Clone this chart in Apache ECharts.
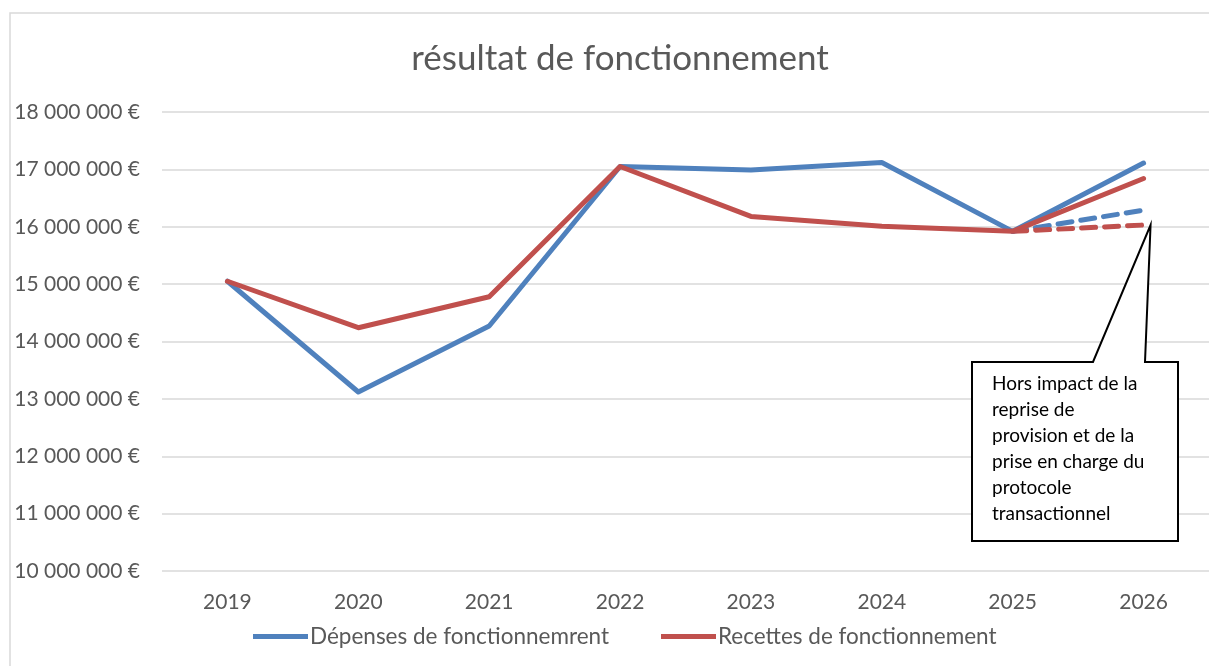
<!DOCTYPE html>
<html>
<head>
<meta charset="utf-8">
<script src="https://cdn.jsdelivr.net/npm/echarts@6/dist/echarts.min.js"></script>
<style>
  html, body { margin: 0; padding: 0; background: #fff; }
  #chart { width: 1209px; height: 666px; }
</style>
</head>
<body>
<div id="chart"></div>
<script>
// --- données ---
const YEARS = ["2019", "2020", "2021", "2022", "2023", "2024", "2025", "2026"];
const DEPENSES = [15050000, 13120000, 14270000, 17050000, 16990000, 17120000, 15920000, 17110000];
const RECETTES = [15050000, 14240000, 14780000, 17050000, 16180000, 16010000, 15920000, 16840000];
// hors impact (pointillés 2025 -> 2026)
const DEPENSES_HORS = [null, null, null, null, null, null, 15920000, 16290000];
const RECETTES_HORS = [null, null, null, null, null, null, 15920000, 16030000];
const CALLOUT_TEXT = "Hors impact de la\nreprise de\nprovision et de la\nprise en charge du\nprotocole\ntransactionnel";

const FONT = "Lato";
const GREY = "#595959";
const BLUE = "#4F81BD";
const RED = "#C0504D";

const fmtEuro = (v) => String(v).replace(/\B(?=(\d{3})+(?!\d))/g, " ") + " €";

const chart = echarts.init(document.getElementById("chart"));

const option = {
  animation: false,
  textStyle: { fontFamily: FONT },
  title: {
    text: "résultat de fonctionnement",
    left: 615,
    textAlign: "center",
    top: 36,
    textStyle: { fontFamily: FONT, fontSize: 35, fontWeight: "normal", color: GREY },
  },
  legend: {
    data: ["Dépenses de fonctionnemrent", "Recettes de fonctionnement"],
    left: 248,
    top: 620,
    itemWidth: 55,
    itemHeight: 5,
    itemGap: 52,
    icon: "rect",
    textStyle: { fontFamily: FONT, fontSize: 22.5, color: GREY, padding: [0, 0, 0, -3] },
  },
  grid: { left: 162, right: -11, top: 112, bottom: 95 },
  xAxis: {
    type: "category",
    data: YEARS,
    boundaryGap: true,
    axisLine: { show: false },
    axisTick: { show: false },
    axisLabel: { fontFamily: FONT, fontSize: 21, color: GREY, margin: 21 },
  },
  yAxis: {
    type: "value",
    min: 10000000,
    max: 18000000,
    interval: 1000000,
    axisLine: { show: false },
    axisTick: { show: false },
    splitLine: { lineStyle: { color: "#d9d9d9", width: 1.5 } },
    axisLabel: { fontFamily: FONT, fontSize: 21, color: GREY, margin: 22, formatter: fmtEuro },
  },
  series: [
    {
      name: "Dépenses de fonctionnemrent",
      type: "line",
      data: DEPENSES,
      showSymbol: false,
      color: BLUE,
      lineStyle: { width: 5, color: BLUE, cap: "round", join: "round" },
      z: 3,
    },
    {
      name: "Recettes de fonctionnement",
      type: "line",
      data: RECETTES,
      showSymbol: false,
      color: RED,
      lineStyle: { width: 5, color: RED, cap: "round", join: "round" },
      z: 4,
    },
    {
      name: "Dépenses hors impact",
      type: "line",
      data: DEPENSES_HORS,
      showSymbol: false,
      lineStyle: { width: 5, color: BLUE, type: [14, 9], cap: "round" },
      z: 2,
    },
    {
      name: "Recettes hors impact",
      type: "line",
      data: RECETTES_HORS,
      showSymbol: false,
      lineStyle: { width: 5, color: RED, type: [14, 9], cap: "round" },
      z: 2,
    },
  ],
};

chart.setOption(option);

// bulle d'annotation pointant sur la fin des pointillés 2026
const tip = chart.convertToPixel({ seriesIndex: 3 }, [YEARS.length - 1, RECETTES_HORS[RECETTES_HORS.length - 1]]);
const bx0 = 972, by0 = 362, bx1 = 1178, by1 = 541;

chart.setOption({
  graphic: [
    {
      type: "rect",
      shape: { x: 10, y: 13, width: 1240, height: 700 },
      style: { fill: "none", stroke: "#d9d9d9", lineWidth: 1.5 },
      silent: true,
      z: 0,
    },
    {
      type: "polygon",
      shape: {
        points: [
          [bx0, by1], [bx0, by0], [1093, by0], [tip[0] + 7, tip[1]],
          [1145, by0], [bx1, by0], [bx1, by1],
        ],
      },
      style: { fill: "#fff", stroke: "#000", lineWidth: 2 },
      z: 100,
    },
    {
      type: "text",
      left: 992,
      top: 371,
      style: {
        text: CALLOUT_TEXT,
        fontFamily: FONT,
        fontSize: 19,
        lineHeight: 26,
        fill: "#000",
      },
      z: 101,
    },
  ],
});
</script>
</body>
</html>
